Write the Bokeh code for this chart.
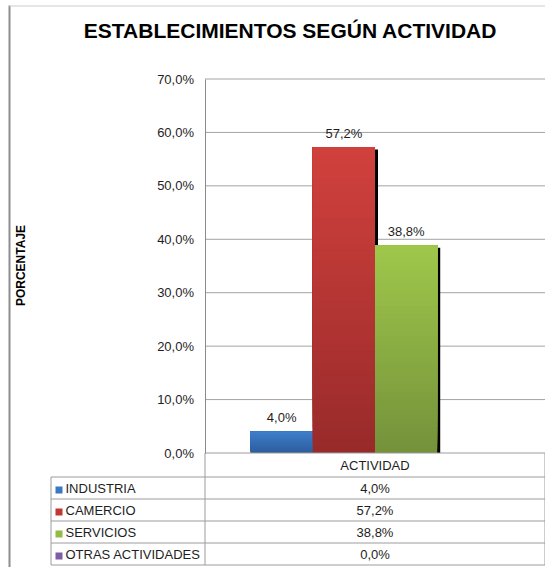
import numpy as np
from bokeh.plotting import figure
from bokeh.models import Range1d, LinearAxis, FixedTicker, CustomJSTickFormatter, ColumnDataSource
from bokeh.core.properties import value
from bokeh.embed import file_html
from bokeh.resources import INLINE

# ---------------- data ----------------
title_text = "ESTABLECIMIENTOS SEGÚN ACTIVIDAD"
y_axis_title = "PORCENTAJE"
x_category = "ACTIVIDAD"
series_names = ["INDUSTRIA", "CAMERCIO", "SERVICIOS", "OTRAS ACTIVIDADES"]
series_values = [4.0, 57.2, 38.8, 0.0]
y_ticks = [0, 10, 20, 30, 40, 50, 60, 70]

# ---------------- styles ----------------
top_colors = ["#3F7FCC", "#D1413D", "#9FC84B", "#8064A2"]
bottom_colors = ["#2E5D9C", "#982A2A", "#74913A", "#5F4A7A"]
swatch_colors = ["#3B78C4", "#C0382F", "#93BC44", "#7E5CA8"]
FONT = value("Liberation Sans")
TXT = "#1e1e1e"
GRID = "#a3a3a3"
TABLE_LINE = "#9c9c9c"
SMALL = "13px"

# canvas-pixel layout
W, H = 545, 567
PL, PR, PT, PB = 204.5, 544.5, 78.5, 452.5   # plot area
TL = 50.5                                     # table left
ROW0, ROWH = 476.5, 22.0                      # first body row top, row height

kx = (PR - PL) / 1.0
ky = (PB - PT) / (y_ticks[-1] - y_ticks[0])

p = figure(width=W, height=H, output_backend="svg", toolbar_location=None,
           x_axis_location=None, y_axis_location=None,
           x_range=Range1d((0 - PL) / kx, (W - PL) / kx),
           y_range=Range1d(-(H - PB) / ky, y_ticks[-1] + PT / ky),
           min_border=0, min_border_left=0, min_border_right=0,
           min_border_top=0, min_border_bottom=0)
p.extra_x_ranges = {"px": Range1d(0, W)}
p.extra_y_ranges = {"px": Range1d(H, 0)}
p.outline_line_color = None
p.background_fill_color = "white"
p.border_fill_color = "white"
p.xgrid.visible = False
p.ygrid.visible = False

PX = dict(x_range_name="px", y_range_name="px")

# ---------------- outer border ----------------
p.segment(x0=[9], y0=[5], x1=[9], y1=[H], line_color="#8e8e8e", line_width=2, **PX)
p.segment(x0=[8], y0=[5.5], x1=[W], y1=[5.5], line_color="#cccccc", line_width=1, **PX)

# ---------------- grid lines ----------------
gt = [t for t in y_ticks if t > 0]
p.segment(x0=[0] * len(gt), y0=gt, x1=[1] * len(gt), y1=gt, line_color=GRID, line_width=1)

# ---------------- bars ----------------
n = len(series_values)
group = 0.732
bw = group / n
lefts = [0.5 - group / 2 + i * bw for i in range(n)]
rights = [l + bw for l in lefts]

# shadows
sh = [(l + 3 / kx, r + 3 / kx, v - 2 / ky) for l, r, v in zip(lefts, rights, series_values) if v > 0]
p.quad(left=[s[0] for s in sh], right=[s[1] for s in sh], top=[s[2] for s in sh], bottom=[0] * len(sh),
       fill_color="black", line_color=None)


def hex2rgb(h):
    return np.array([int(h[i:i + 2], 16) for i in (1, 3, 5)], dtype=float)


# vertical gradient: overlapping layers, each from a step up to the bar top
strips = dict(left=[], right=[], top=[], bottom=[], color=[])
NS = 48
for i, v in enumerate(series_values):
    if v <= 0:
        continue
    edges = np.linspace(0, v, NS + 1)
    c0, c1 = hex2rgb(bottom_colors[i]), hex2rgb(top_colors[i])
    for j in range(NS):
        f = (j + 0.5) / NS
        c = c0 + (c1 - c0) * f
        strips["left"].append(lefts[i])
        strips["right"].append(rights[i])
        strips["bottom"].append(edges[j])
        strips["top"].append(v)
        strips["color"].append("#%02x%02x%02x" % tuple(int(round(x)) for x in c))
p.quad(left="left", right="right", top="top", bottom="bottom", fill_color="color",
       line_color=None, source=ColumnDataSource(strips))


def fmt(v):
    return ("%.1f" % v).replace(".", ",") + "%"


lab = [(0.5 * (l + r), v + 14 / ky, fmt(v)) for l, r, v in zip(lefts, rights, series_values) if v > 0]
p.text(x=[a[0] for a in lab], y=[a[1] for a in lab], text=[a[2] for a in lab],
       text_align="center", text_baseline="middle", text_font=FONT,
       text_font_size=SMALL, text_color=TXT)

# ---------------- y axis ----------------
yaxis = LinearAxis(ticker=FixedTicker(ticks=y_ticks),
                   formatter=CustomJSTickFormatter(code="return tick.toFixed(1).replace('.', ',') + '%';"),
                   fixed_location=0, bounds=(y_ticks[0], y_ticks[-1]))
yaxis.axis_line_color = "#8a8a8a"
yaxis.major_tick_out = 0
yaxis.major_tick_in = 0
yaxis.minor_tick_out = 0
yaxis.minor_tick_in = 0
yaxis.major_label_standoff = 11
yaxis.major_label_text_font = "Liberation Sans"
yaxis.major_label_text_font_size = SMALL
yaxis.major_label_text_color = TXT
p.add_layout(yaxis, "left")

# ---------------- titles ----------------
p.text(x=[290], y=[30], text=[title_text], text_align="center", text_baseline="middle",
       text_font=FONT, text_font_size="21px", text_font_style="bold", text_color="black", **PX)
p.text(x=[20], y=[265], text=[y_axis_title], angle=np.pi / 2, text_align="center",
       text_baseline="middle", text_font=FONT, text_font_size="12px", text_font_style="bold",
       text_color="black", **PX)

# ---------------- data table ----------------
rows_top = [ROW0 + i * ROWH for i in range(n + 1)]
p.segment(x0=[TL] * (n + 1), y0=rows_top, x1=[PR] * (n + 1), y1=rows_top, line_color=TABLE_LINE, **PX)
p.segment(x0=[PL], y0=[PB], x1=[PR], y1=[PB], line_color=TABLE_LINE, **PX)
p.segment(x0=[TL, PL, PR], y0=[ROW0, PB, PB], x1=[TL, PL, PR], y1=[rows_top[-1]] * 3,
          line_color=TABLE_LINE, **PX)

p.text(x=[(PL + PR) / 2], y=[(PB + ROW0) / 2], text=[x_category], text_align="center",
       text_baseline="middle", text_font=FONT, text_font_size=SMALL, text_color=TXT, **PX)

centers = [rows_top[i] + ROWH / 2 for i in range(n)]
p.quad(left=[TL + 4.5] * n, right=[TL + 11.5] * n,
       top=[c - 1.5 for c in centers], bottom=[c + 5.5 for c in centers],
       fill_color=swatch_colors, line_color=None, **PX)
p.text(x=[TL + 14.5] * n, y=centers, text=series_names, text_align="left", text_baseline="middle",
       text_font=FONT, text_font_size=SMALL, text_color=TXT, **PX)
p.text(x=[(PL + PR) / 2] * n, y=centers, text=[fmt(v) for v in series_values], text_align="center",
       text_baseline="middle", text_font=FONT, text_font_size=SMALL, text_color=TXT, **PX)

open("out.html", "w").write(file_html(p, INLINE))
